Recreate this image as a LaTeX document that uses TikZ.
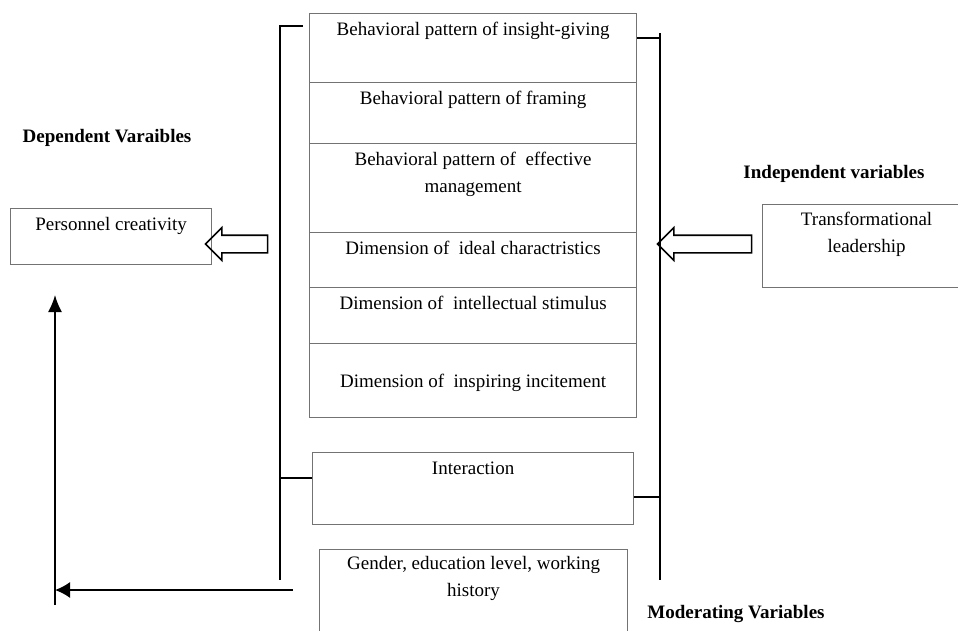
\documentclass[tikz,border=0pt]{standalone}
\usepackage{fontspec}
\setmainfont{Liberation Serif}
\usetikzlibrary{positioning,shapes.arrows,arrows.meta}

\begin{document}
\begin{tikzpicture}[x=1pt,y=-1pt,
	every node/.style={font=\fontsize{19}{27}\selectfont},
	cell/.style={draw=black!55, line width=1.2pt, anchor=north west, inner xsep=0pt, inner ysep=0pt, text height=22pt, align=center},
	head/.style={font=\fontsize{19}{27}\selectfont\bfseries, anchor=base},
	blk/.style={draw, line width=1.6pt, single arrow, single arrow head extend=7.5pt, inner xsep=0pt, inner ysep=8pt, shape border rotate=180},
	brace/.style={line width=1.6pt}]
		\useasboundingbox (0,0) rectangle (958,630);
		%
		\node[cell, minimum width=327pt, text depth=47pt] (b1) at (309,13) {Behavioral pattern of insight-giving};
		\node[cell, minimum width=327pt, text depth=39pt] (b2) at (309,82) {Behavioral pattern of framing};
		\node[cell, minimum width=327pt, text height=49pt, text depth=40pt] (b3) at (309,143) {Behavioral pattern of\ \ effective\\ management};
		\node[cell, minimum width=327pt, text depth=33pt] (b4) at (309,232) {Dimension of\ \ ideal charactristics};
		\node[cell, minimum width=327pt, text depth=34pt] (b5) at (309,287) {Dimension of\ \ intellectual stimulus};
		\node[cell, minimum width=327pt, text height=44pt, text depth=30pt] (b6) at (309,343) {Dimension of\ \ inspiring incitement};
		\node[cell, minimum width=321pt, text depth=50pt] (inter) at (312,452) {Interaction};
		\node[cell, minimum width=308pt, text height=47pt, text depth=48pt] (mod) at (319,549) {Gender, education level, working\\ history};
		\node[cell, minimum width=201pt, text depth=34pt] (pc) at (10,208) {Personnel creativity};
		\node[cell, minimum width=208pt, text height=48pt, text depth=35pt] (tl) at (762,204) {Transformational\\ leadership};
		%
		\node[head] (dv) at (107,142) {Dependent Varaibles};
		\node[head] (iv) at (834,178) {Independent variables};
		\node[head] (mv) at (736,618) {Moderating Variables};
		%
		\node[blk, minimum height=62pt] (arL) at (241,244) {};
		\node[blk, minimum height=94pt] (arR) at (709,244) {};
		%
		\coordinate (lt) at (280,26);
		\coordinate (ltk) at (303,26);
		\coordinate (lmk) at (280,478);
		\coordinate (lb) at (280,580);
		\coordinate (rt) at (660,33);
		\coordinate (rtk) at (660,38);
		\coordinate (rmk) at (660,497);
		\coordinate (rb) at (660,580);
		\coordinate (ms) at (293,590);
		\coordinate (mc) at (55,590);
		\coordinate (vb) at (55,605);
		\coordinate (vt) at (55,295);
		%
		%Brackets
		\draw[brace] (ltk) -- (lt) -- (lb);
		\draw[brace] (lmk) -- (lmk -| inter.west);
		\draw[brace] (rt) -- (rb);
		\draw[brace] (rtk -| b1.east) -- (rtk);
		\draw[brace] (rmk -| inter.east) -- (rmk);
		%
		%Moderating arrows
		\draw[brace, -{Latex[length=15pt,width=16pt]}] (ms) -- (mc);
		\draw[brace, -{Latex[length=17pt,width=14pt]}] (vb) -- (vt);
	\end{tikzpicture}
\end{document}
